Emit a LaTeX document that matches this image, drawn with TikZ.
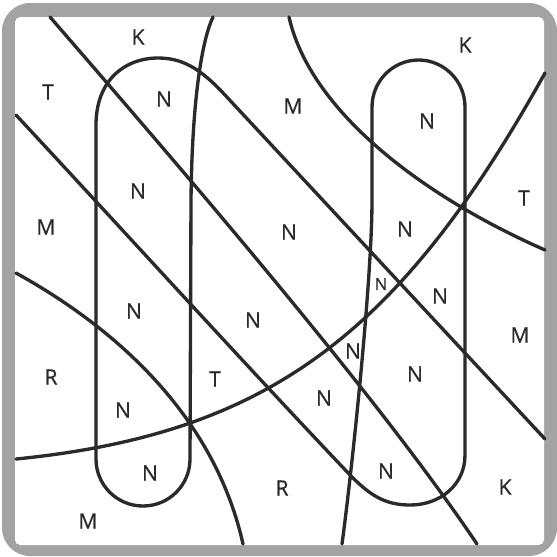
\documentclass[tikz,border=0pt]{standalone}
\usepackage{fontspec}
\setmainfont{Open Sans}
\newfontfamily\cellfont{Open Sans}[FakeBold=0.6]
\begin{document}
\begin{tikzpicture}[x=0.02cm,y=-0.02cm,font=\cellfont\fontsize{12}{14}\selectfont]
  \definecolor{mazeink}{HTML}{2A2A2A}
  \definecolor{mazeframe}{HTML}{A3A3A3}
  \tikzset{
    wall/.style={mazeink,line width=1.9pt,line cap=round},
    cell/.style={text=mazeink,inner sep=0pt}
  }
  \path[use as bounding box] (0,0) rectangle (557,556);

  % frame
  \fill[mazeframe,rounded corners=16pt] (2,3) rectangle (557,556);
  \fill[white,rounded corners=3pt] (15,17) rectangle (544,545);

  % left loop, then its tail
  \draw[wall] (213,17) .. controls (202,40) and (192,100) .. (191,200)
    -- (190,459) .. controls (190,485) and (169,506) .. (143,506)
    .. controls (117,506) and (96,485) .. (96,459)
    -- (96,125) .. controls (96,80) and (125,58) .. (158,58)
    .. controls (182,58) and (200,68) .. (225,95) -- (545,439);

  % right loop, then its tail
  \draw[wall] (342,544) .. controls (352,470) and (372,280) .. (372,200)
    -- (372,107) .. controls (372,81) and (393,60) .. (418.5,60)
    .. controls (444,60) and (465,81) .. (465,107)
    -- (465,455) .. controls (465,485) and (440,505) .. (410,505)
    .. controls (385,505) and (370,495) .. (352,477)
    .. controls (250,370) and (100,205) .. (16,115);

  % long curves
  \draw[wall] (50,17) .. controls (200,190) and (380,400) .. (477,544);
  \draw[wall] (289,17) .. controls (310,110) and (420,195) .. (545,250);
  \draw[wall] (16,459) .. controls (266,434) and (398,337) .. (545,73);
  \draw[wall] (16,273) .. controls (130,336) and (217,427) .. (243,544);

  % letters
  \foreach \x/\y/\lab [count=\i] in {
    138/37/K, 48/92/T, 164/99/N, 293/106/M, 465/45/K, 427/121/N,
    138/191/N, 46/227/M, 289/232/N, 405/229/N, 524/198/T,
    440/296/N, 134/311/N, 253/320/N, 520/335/M, 353/351/N,
    415/374/N, 51/377/R, 215/379/T, 123/410/N, 324/398/N,
    150/473/N, 282/488/R, 386/471/N, 505/487/K, 88/521/M
  }{
    \node[cell] (lab\i) at (\x,\y) {\lab};
  }
  \node[cell,font=\cellfont\fontsize{9.5}{11}\selectfont] (labsmall) at (381,284) {N};
\end{tikzpicture}
\end{document}
